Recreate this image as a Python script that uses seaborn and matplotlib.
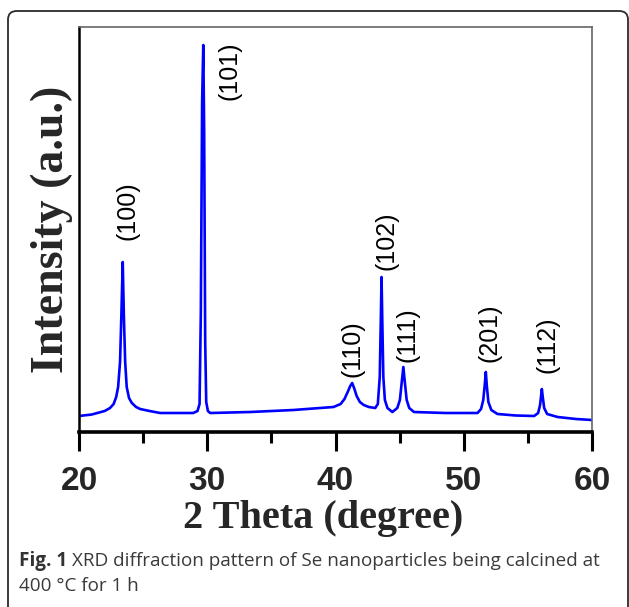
import matplotlib
matplotlib.use("Agg")
import matplotlib.pyplot as plt
from matplotlib.patches import FancyBboxPatch
from matplotlib.ticker import MultipleLocator
import seaborn as sns
import pandas as pd

# ---- data (2theta in degree, intensity in a.u.) ----
two_theta = [20.00, 21.00, 22.00, 22.42, 22.70, 22.90, 23.05, 23.20, 23.30, 23.41,
             23.50, 23.60, 23.72, 23.90, 24.12, 24.45, 24.77, 25.50, 26.33, 28.00,
             28.91, 29.24, 29.40, 29.50, 29.60, 29.69, 29.76, 29.84, 29.92, 30.05,
             30.23, 33.36, 36.72, 39.84, 40.40, 40.70, 40.95, 41.15, 41.30, 41.45,
             41.65, 41.90, 42.20, 42.60, 43.10, 43.30, 43.45, 43.53, 43.59, 43.65,
             43.73, 43.85, 44.05, 44.43, 44.82, 45.02, 45.15, 45.29, 45.42, 45.55,
             45.75, 46.12, 48.59, 51.07, 51.35, 51.52, 51.63, 51.72, 51.80, 51.92,
             52.15, 52.63, 54.06, 55.49, 55.80, 55.95, 56.03, 56.09, 56.16, 56.27,
             56.50, 57.32, 58.75, 60.00]
intensity = [16, 17.5, 21, 24, 28, 35, 45, 70, 115, 170,
             115, 70, 45, 34, 29, 25, 23, 21, 19, 19,
             19, 21, 28, 120, 330, 387, 300, 90, 30, 21,
             19, 20, 22, 25, 28, 33, 40, 46, 49, 44,
             36, 30, 27, 25, 24, 28, 55, 110, 155, 110,
             55, 32, 24, 20, 24, 32, 48, 65, 48, 32,
             24, 20, 19, 19, 23, 32, 46, 60, 46, 30,
             22, 18, 16.5, 16, 19, 27, 36, 43, 35, 24,
             18, 15, 13, 12]
peak_labels = ["(100)", "(101)", "(110)", "(102)", "(111)", "(201)", "(112)"]
x_ticks = [20, 30, 40, 50, 60]

# label anchors (layout, data coords of text bottom-centre)
label_x = [23.75, 31.72, 41.30, 43.98, 45.62, 52.02, 56.55]
label_y = [192, 332, 55, 162, 70, 70, 59]

df = pd.DataFrame({"two_theta": two_theta, "intensity": intensity})

sns.set_style("white")
plt.rcParams["font.family"] = ["Liberation Sans", "DejaVu Sans"]

W, H = 629, 607
fig = plt.figure(figsize=(W / 100, H / 100), dpi=100)

# rounded frame
frame = FancyBboxPatch((8 / W, (H - 640) / H), (628 - 8) / W, (640 - 11) / H,
                       boxstyle="round,pad=0,rounding_size=0.014",
                       transform=fig.transFigure, fill=False,
                       edgecolor="#2b2b2b", linewidth=1.3, zorder=0)
fig.patches.append(frame)

ax_l, ax_r, ax_t, ax_b = 79, 592, 27, 432
ax = fig.add_axes([ax_l / W, (H - ax_b) / H, (ax_r - ax_l) / W, (ax_b - ax_t) / H])

sns.lineplot(data=df, x="two_theta", y="intensity", ax=ax, color="#0000FF",
             linewidth=1.9, estimator=None, sort=False)

ax.set_xlim(20, 60)
ax.set_ylim(0, 405)
ax.set_yticks([])
ax.xaxis.set_major_locator(MultipleLocator(10))
ax.xaxis.set_minor_locator(MultipleLocator(5))
ax.set_xticks(x_ticks)
ax.set_xticklabels([str(t) for t in x_ticks])
ax.tick_params(axis="x", which="major", direction="out", length=13.5, width=2.2,
               color="black", pad=11, bottom=True)
ax.tick_params(axis="x", which="minor", direction="out", length=8, width=2.2,
               color="black", bottom=True)
for lab in ax.get_xticklabels():
    lab.set_fontfamily(["Liberation Sans Narrow", "Liberation Sans"])
    lab.set_fontweight("bold")
    lab.set_fontsize(24)

for side in ["top", "right"]:
    ax.spines[side].set_color("#666666")
    ax.spines[side].set_linewidth(1.2)
ax.spines["left"].set_color("black")
ax.spines["left"].set_linewidth(1.8)
ax.spines["bottom"].set_color("black")
ax.spines["bottom"].set_linewidth(2.6)

ax.set_xlabel("2 Theta (degree)", fontfamily=["Liberation Serif"], fontweight="bold",
              fontsize=29)
ax.set_ylabel("Intensity (a.u.)", fontfamily=["Liberation Serif"], fontweight="bold",
              fontsize=33)
ax.xaxis.set_label_coords(0.476, -0.168)
ax.yaxis.set_label_coords(-0.012, 0.5)

for lx, ly, txt in zip(label_x, label_y, peak_labels):
    ax.text(lx, ly, txt, rotation=90, ha="center", va="bottom", fontsize=18,
            color="black")

# caption
cap_font = ["Open Sans", "DejaVu Sans"]
t1 = fig.text(19 / W, 1 - 561 / H, "Fig. 1", fontfamily=cap_font, fontweight="bold",
              fontsize=13.6, color="#333333", va="center", ha="left")
fig.canvas.draw()
bb = t1.get_window_extent()
fig.text(bb.x1 / W + 5 / W, 1 - 561 / H,
         "XRD diffraction pattern of Se nanoparticles being calcined at",
         fontfamily=cap_font, fontsize=13.6, color="#3a3a3a", va="center", ha="left")
fig.text(19 / W, 1 - 586 / H, "400 °C for 1 h", fontfamily=cap_font, fontsize=13.6,
         color="#3a3a3a", va="center", ha="left")

fig.savefig("out.png", dpi=100)
